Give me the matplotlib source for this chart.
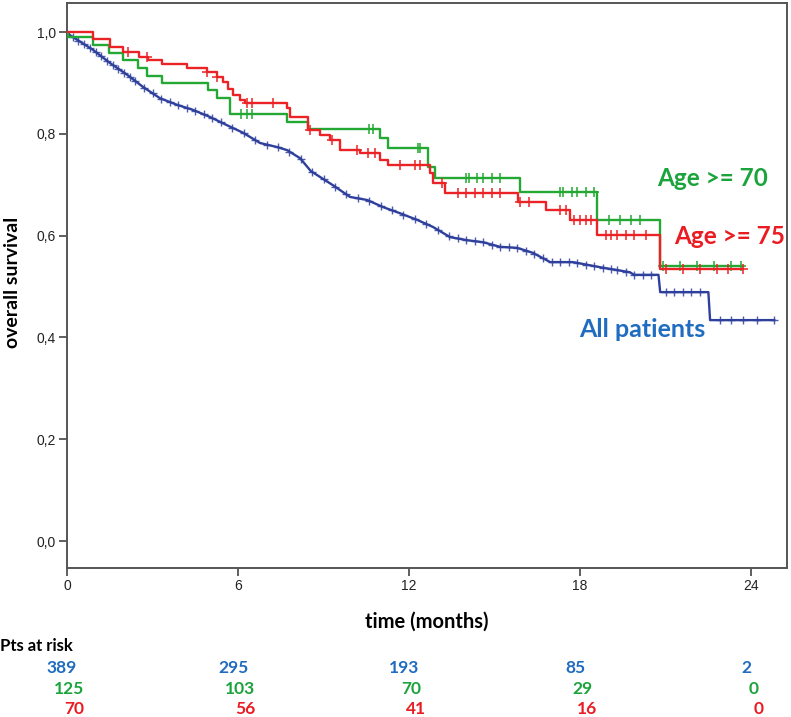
import matplotlib

matplotlib.use("Agg")

import matplotlib.pyplot as plt
import matplotlib.transforms as mtransforms
import numpy as np

# All patients: many tiny steps, so it is kept as a traced line (months, survival)
blue_t = [0, 0.1, 0.91, 1.51, 2.11, 2.67, 3.26, 3.86, 4.42, 5.02, 5.61, 6.18, 6.77,
          7.37, 7.72, 8.18, 8.55, 9.33, 9.93, 10.53, 11.09, 11.68, 12.28, 12.84, 13.44,
          14.04, 14.6, 15.19, 15.79, 16.35, 16.95, 17.75, 18.7, 19.75, 19.89, 20.75,
          20.81, 22.5, 22.56, 24.81]
blue_s = [1.0, 0.994, 0.965, 0.939, 0.916, 0.892, 0.870, 0.857, 0.847, 0.833, 0.817,
          0.802, 0.782, 0.774, 0.768, 0.752, 0.727, 0.699, 0.676, 0.670, 0.656, 0.644,
          0.631, 0.617, 0.597, 0.591, 0.587, 0.578, 0.576, 0.566, 0.548, 0.548, 0.538,
          0.528, 0.523, 0.523, 0.489, 0.489, 0.434, 0.434]
blue_cens = [0.2, 0.4, 0.6, 0.8, 1.0, 1.2, 1.4, 1.6, 1.8, 2.0, 2.2, 2.4, 2.7, 3.0, 3.3,
             3.6, 3.9, 4.2, 4.5, 4.8, 5.1, 5.4, 5.8, 6.2, 6.6, 7.0, 7.4, 7.8, 8.2, 8.6,
             9.0, 9.4, 9.8, 10.2, 10.6, 11.0, 11.4, 11.8, 12.2, 12.6, 13.0, 13.4, 13.7,
             14.0, 14.3, 14.6, 14.9, 15.2, 15.5, 15.8, 16.1, 16.4, 16.7, 17.0, 17.3,
             17.6, 17.9, 18.2, 18.5, 18.8, 19.1, 19.3, 19.6, 19.9, 20.2, 20.5, 21.0,
             21.3, 21.6, 21.9, 22.2, 22.9, 23.3, 23.7, 24.2, 24.8]

# Age >= 70 / Age >= 75 Kaplan-Meier steps: (step time, survival after the step)
green_t = [0, 0.05, 0.91, 1.47, 1.96, 2.49, 2.81, 3.33, 4.95, 5.26, 5.72, 7.72, 8.46,
           10.98, 11.26, 12.67, 12.91, 15.89, 18.61, 20.81, 23.7]
green_s = [1.0, 0.99, 0.975, 0.958, 0.945, 0.929, 0.914, 0.900, 0.886, 0.870, 0.839,
           0.823, 0.809, 0.792, 0.772, 0.735, 0.713, 0.686, 0.631, 0.541, 0.541]
green_cens = [6.1, 6.3, 6.5, 10.6, 10.75, 12.3, 12.4, 14.0, 14.1, 14.4, 14.6, 14.9, 15.2,
              17.3, 17.4, 17.7, 17.9, 18.2, 18.5, 19.0, 19.4, 19.8, 20.1, 20.9, 21.5,
              22.1, 22.7, 23.3, 23.65]

red_t = [0, 0.91, 1.51, 1.96, 2.53, 2.84, 3.33, 4.21, 4.91, 5.26, 5.47, 5.65, 5.82, 6.07,
         6.25, 7.72, 7.82, 8.46, 8.88, 9.23, 9.58, 10.28, 10.98, 11.26, 12.74, 12.84,
         13.26, 15.82, 16.8, 17.65, 18.61, 20.81, 23.7]
red_s = [1.0, 0.986, 0.971, 0.961, 0.951, 0.945, 0.938, 0.929, 0.922, 0.912, 0.901, 0.889,
         0.876, 0.866, 0.860, 0.850, 0.834, 0.807, 0.798, 0.788, 0.768, 0.762, 0.749,
         0.739, 0.723, 0.703, 0.684, 0.667, 0.650, 0.631, 0.602, 0.535, 0.535]
red_cens = [2.14, 2.81, 4.91, 5.26, 6.3, 6.5, 7.23, 8.53, 9.3, 10.18, 10.56, 10.81, 11.68,
            12.2, 12.4, 13.16, 13.7, 14.0, 14.3, 14.6, 14.9, 15.2, 15.9, 16.2, 17.3, 17.5,
            17.8, 18.0, 18.2, 18.4, 18.9, 19.1, 19.3, 19.6, 19.9, 20.3, 21.0, 21.6, 22.2,
            22.8, 23.2, 23.7]

risk_times = [0, 6, 12, 18, 24]
risk_all = [389, 295, 193, 85, 2]
risk_70 = [125, 103, 70, 29, 0]
risk_75 = [70, 56, 41, 16, 0]

y_ticks = [0.0, 0.2, 0.4, 0.6, 0.8, 1.0]
y_ticklabels = ["0,0", "0,2", "0,4", "0,6", "0,8", "1,0"]

BLUE_LINE = "#2E3F9C"
GREEN_LINE = "#22A833"
RED_LINE = "#EC2326"
BLUE_TEXT = "#1F6CC0"
GREEN_TEXT = "#1BA33C"
RED_TEXT = "#EA1C22"
LABEL_FONT = ["Lato", "DejaVu Sans"]
TICK_FONT = ["Liberation Sans", "DejaVu Sans"]


def step_value(times, surv, at):
    idx = np.searchsorted(times, at, side="right") - 1
    return np.asarray(surv)[idx]


def draw_steps(ax, times, surv, cens, color, z):
    ax.plot(times, surv, drawstyle="steps-post", color=color, lw=1.7, zorder=z)
    ax.plot(cens, step_value(times, surv, cens), linestyle="none", marker="+",
            markersize=7, markeredgewidth=1.1, color=color, zorder=z)


fig = plt.figure(figsize=(7.91, 7.17), dpi=100)
ax = fig.add_axes([0.0847, 0.2078, 0.9103, 0.788])

ax.plot(blue_t, blue_s, color=BLUE_LINE, lw=1.7, zorder=3)
ax.plot(blue_cens, np.interp(blue_cens, blue_t, blue_s), linestyle="none", marker="+",
        markersize=6, markeredgewidth=1.0, color=BLUE_LINE, alpha=0.85, zorder=3)
draw_steps(ax, green_t, green_s, green_cens, GREEN_LINE, 4)
draw_steps(ax, red_t, red_s, red_cens, RED_LINE, 5)

ax.set_xlim(0, 25.26)
ax.set_ylim(-0.053, 1.057)
ax.set_xticks(risk_times)
ax.set_xticklabels([str(t) for t in risk_times], family=TICK_FONT, fontsize=10, color="#222222")
ax.set_yticks(y_ticks)
ax.set_yticklabels(y_ticklabels, family=TICK_FONT, fontsize=10, color="#222222")
ax.tick_params(direction="out", length=6, width=1.2, color="#444444", pad=2)
for spine in ax.spines.values():
    spine.set_color("#555555")
    spine.set_linewidth(1.4)

# curve labels
ax.text(22.63, 0.713, "Age >= 70", color=GREEN_TEXT, fontsize=17.5, fontweight="bold",
        family=LABEL_FONT, ha="center", va="center")
ax.text(23.26, 0.599, "Age >= 75", color=RED_TEXT, fontsize=17.5, fontweight="bold",
        family=LABEL_FONT, ha="center", va="center")
ax.text(20.18, 0.415, "All patients", color=BLUE_TEXT, fontsize=18, fontweight="bold",
        family=LABEL_FONT, ha="center", va="center")

fig.text(13 / 791, 1 - 282 / 717, "overall survival", rotation=90, fontsize=14,
         fontweight="bold", family=LABEL_FONT, ha="center", va="center")
fig.text(427 / 791, 1 - 622 / 717, "time (months)", fontsize=14.5, fontweight="bold",
         family=LABEL_FONT, ha="center", va="center")

# numbers at risk table
fig.text(0.0, 1 - 646 / 717, "Pts at risk", fontsize=12, fontweight="bold",
         family=LABEL_FONT, ha="left", va="center")
blend = mtransforms.blended_transform_factory(ax.transData, fig.transFigure)
rows = [(risk_all, BLUE_TEXT, 668, -5), (risk_70, GREEN_TEXT, 689, 2), (risk_75, RED_TEXT, 709, 7)]
for counts, color, ypix, xoff in rows:
    trans = blend + mtransforms.ScaledTranslation(xoff / 100, 0, fig.dpi_scale_trans)
    for t, n in zip(risk_times, counts):
        ax.text(t, 1 - ypix / 717, str(n), transform=trans, color=color, fontsize=12.5,
                fontweight="bold", family=LABEL_FONT, ha="center", va="center", clip_on=False)

fig.savefig("out.png", dpi=100, facecolor="white")
